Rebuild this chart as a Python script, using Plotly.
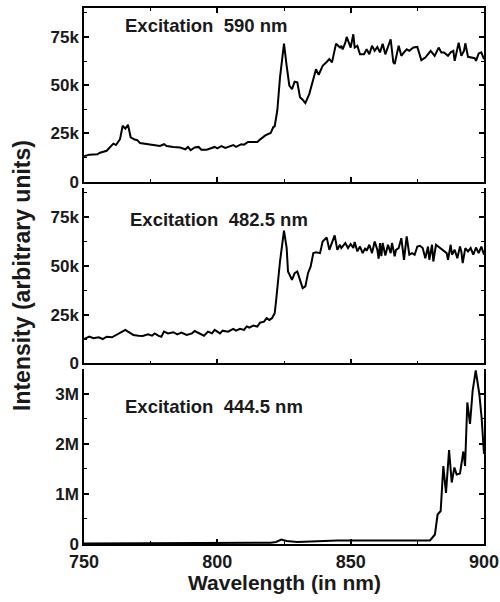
import plotly.graph_objects as go

# Panel 1: Excitation 590 nm
wl_590 = [750, 752, 755, 756, 758.5, 760, 761, 762, 763.5, 764.5, 765.5, 766.5, 767.5, 769, 770, 771, 773, 774, 776,
          778.5, 780, 781, 783.5, 786, 788, 789, 790, 791.5, 793, 794, 796, 798, 799, 800, 801.5, 803, 804, 806, 807,
          809, 810, 811.5, 813.5, 815, 816, 818, 820, 821, 821.5, 822.5, 823.5, 825, 826, 827, 828, 829, 830, 831, 832,
          833, 834.5, 836, 837, 838, 839.5, 841, 842, 843, 844.5, 846, 846.5, 847, 848, 848.5, 850, 851, 851.5, 852.5,
          853.5, 855, 856, 857, 858, 859, 860, 861, 862, 863, 864, 865, 866, 866.5, 868, 869, 870, 871, 872, 873.5, 875,
          876.5, 878, 879, 880, 881.5, 883, 884, 885, 886.5, 887.5, 888.5, 889, 890.5, 891.5, 892.5, 893, 894, 895.5,
          896.5, 897, 898, 899, 900]
int_590 = [13.2, 14, 14.2, 15, 16, 18, 19.7, 19, 22, 29, 27.5, 29.5, 23, 21.8, 21.5, 20, 19.7, 19.4, 19,
           18.5, 19.4, 18.5, 18, 17.7, 16.8, 18, 16.3, 17.7, 18, 16.6, 16.6, 17.7, 18, 17.3, 18.4, 17.5, 18, 19, 18,
           19.4, 19.2, 20.6, 20.6, 20.6, 21.8, 24, 25.2, 28.3, 28.7, 37, 54, 71.5, 60, 49.8, 48, 51.8, 51.5, 43.8, 42.5,
           40.7, 45.5, 54, 58.3, 55.4, 60, 62, 63.5, 61.8, 71.5, 69.5, 70.4, 68.6, 72, 75, 69.5, 76.4, 69.5, 70.4,
           66, 66, 68.6, 66, 70.4, 67.8, 69.8, 67, 71.5, 66, 69.5, 73.8, 61.8, 61, 70.4, 65.2, 67, 68.6, 67.8, 69.5, 69.8,
           63, 64.3, 66.4, 67.8, 65.2, 69.5, 67, 67, 65.2, 67, 67.8, 62.6, 72, 65.2, 67.8, 71.7, 64.7, 64.3,
           64, 62.6, 66.4, 67, 63.5]

# Panel 2: Excitation 482.5 nm
wl_482 = [750, 752, 753.5, 755.5, 757, 758.5, 760.5, 762, 764, 765.5, 766.5, 768.5, 770.5, 772, 774, 775.5, 776.5, 778,
          779, 780, 781.5, 783.5, 785, 786.5, 788.5, 790.5, 791.5, 793, 795, 796.5, 798, 799, 800, 801, 802, 804, 806,
          807, 808.5, 810, 811, 812, 813.5, 815, 816, 817.5, 818.5, 819.5, 820.5, 821.5, 822, 823.5, 825, 826, 826.5,
          828, 829, 830, 831, 832, 833, 834, 835, 836, 837, 838.5, 839.5, 841, 842, 843, 844, 845, 846, 846.5, 848, 849,
          850, 851, 851.5, 852.5, 853.5, 854.5, 855.5, 856, 857, 858, 859, 860, 860.5, 861, 861.5, 862, 863, 864, 865,
          865.5, 866.5, 867, 868, 869, 870, 871, 872, 873, 874, 875, 876, 877, 878, 879, 879.5, 880.5, 881, 882, 883.5,
          884.5, 886, 886.5, 887.5, 888, 889, 890, 891, 891.5, 892, 893, 894, 895, 896, 897, 898, 899, 900]
int_482 = [12.5, 13.7, 12.9, 13.4, 12.5, 13.7, 13.4, 14.6, 16.3, 17.2, 16.3, 14.6, 14.2, 14.1, 14.9, 14.2, 15.4, 14.1,
           13.7, 16.3, 15.4, 16, 14.9, 15.8, 14.6, 15.4, 16.6, 15.6, 14.2, 16.3, 15.4, 17.2, 16.3, 15.4, 16.8, 16.3, 17.7,
           16.8, 17.7, 17.2, 19, 18.4, 19.4, 18.9, 20.9, 21.4, 23.2, 22.3, 23.2, 25.7, 31.7, 52.3, 68.1, 59.2, 47.2,
           42.9, 46.3, 47.2, 42.9, 38.6, 39.5, 46.3, 49.8, 56.6, 57, 56.6, 62.6, 64.7, 58.3, 62.6, 65.7, 58.3, 60.9, 59.2, 61.8, 59.2,
           61.3, 59.2, 62.3, 57.5, 60, 56.6, 59.2, 57.8, 60.9, 56.6, 62.6, 58.3, 53.7, 61.8, 55, 61.8, 55.4, 60.9, 56.6,
           61.8, 55, 58.3, 59.2, 64.3, 53.2, 65.2, 55.8, 56.6, 55.8, 60, 60.4, 59.2, 54, 60, 53.2, 60.9, 52.3, 60.9, 59.2,
           58.3, 56.6, 53.2, 60.9, 55.8, 58.3, 54, 60, 57.5, 51.5, 59.2, 57.5, 59.2, 55.8, 59.5, 56.6, 60, 55.8]

# Panel 3: Excitation 444.5 nm (millions)
wl_444 = [750, 760, 770, 780, 790, 800, 810, 815, 820, 822, 824, 826, 828, 830, 835, 840, 845, 850, 855, 860, 865, 870,
          875, 879.75, 881.6, 882.6, 883.75, 884.75, 885.75, 886.9, 887.9, 888.9, 889.75, 891, 892.25, 892.9, 893.75,
          894.75, 895.75, 896.9, 898.25, 899.1, 900]
int_444 = [0.01, 0.01, 0.01, 0.01, 0.01, 0.012, 0.015, 0.02, 0.025, 0.04, 0.09, 0.06, 0.05, 0.04, 0.05, 0.065, 0.07,
           0.07, 0.065, 0.07, 0.07, 0.07, 0.07, 0.07, 0.19, 0.59, 0.66, 1.56, 1.02, 1.88, 1.23, 1.53, 1.39, 1.41, 1.85,
           1.56, 2.83, 2.40, 3.07, 3.47, 3.0, 2.53, 1.80]

labels = ["Excitation\u00a0\u00a0590 nm", "Excitation\u00a0\u00a0482.5 nm", "Excitation\u00a0\u00a0444.5 nm"]

FONT = "Liberation Sans, Arial, Helvetica, sans-serif"

fig = go.Figure()
fig.add_trace(go.Scatter(x=wl_590, y=[v * 1000 for v in int_590], mode="lines",
                         line=dict(color="black", width=2), xaxis="x", yaxis="y"))
fig.add_trace(go.Scatter(x=wl_482, y=[v * 1000 for v in int_482], mode="lines",
                         line=dict(color="black", width=2), xaxis="x2", yaxis="y2"))
fig.add_trace(go.Scatter(x=wl_444, y=[v * 1e6 for v in int_444], mode="lines",
                         line=dict(color="black", width=2), xaxis="x3", yaxis="y3"))

xtickfont = dict(family=FONT, size=18, color="#1a1a1a", weight="bold")
ytickfont = dict(family=FONT, size=17, color="#1a1a1a", weight="bold")

def xax(anchor, show_labels, top_line):
    return dict(range=[750, 900], anchor=anchor, dtick=50, tick0=750, ticks="inside", ticklen=5,
                tickwidth=1.5, tickcolor="black", showline=True, linecolor="black", linewidth=1.5,
                mirror="ticks" if top_line else False, showgrid=False, zeroline=False,
                showticklabels=show_labels, tickfont=xtickfont, ticklabelstandoff=1,
                minor=dict(dtick=25, tick0=750, ticks="inside", ticklen=3, tickcolor="black", tickwidth=1.2))

def yax(anchor, domain, rng, dtick, minor_dtick):
    return dict(range=rng, domain=domain, anchor=anchor, dtick=dtick, tick0=0, tickformat="~s",
                ticks="inside", ticklen=5, tickwidth=1.5, tickcolor="black", showline=True,
                linecolor="black", linewidth=1.5, mirror="ticks", showgrid=False, zeroline=False,
                tickfont=ytickfont,
                minor=dict(dtick=minor_dtick, tick0=0, ticks="inside", ticklen=3, tickcolor="black", tickwidth=1.2))

fig.update_layout(
    width=500, height=602,
    margin=dict(l=84, r=16, t=8, b=58),
    paper_bgcolor="white", plot_bgcolor="white",
    showlegend=False,
    template="none",
    xaxis=xax("y", False, True),
    xaxis2=xax("y2", False, False),
    xaxis3=xax("y3", True, False),
    yaxis=yax("x", [0.676, 1.0], [0, 90000], 25000, 12500),
    yaxis2=yax("x2", [0.337, 0.664], [0, 90000], 25000, 12500),
    yaxis3=yax("x3", [0.0, 0.3265], [0, 3.5e6], 1e6, 5e5),
)

annfont = dict(family=FONT, size=18.5, color="#1a1a1a", weight="bold")
fig.add_annotation(text=labels[0], xref="x", yref="y", x=764.6, y=80700, xanchor="left", yanchor="middle",
                   showarrow=False, font=annfont)
fig.add_annotation(text=labels[1], xref="x2", yref="y2", x=766.5, y=73800, xanchor="left", yanchor="middle",
                   showarrow=False, font=annfont)
fig.add_annotation(text=labels[2], xref="x3", yref="y3", x=764.6, y=2.74e6, xanchor="left", yanchor="middle",
                   showarrow=False, font=annfont)

fig.add_annotation(text="Intensity (arbitrary units)", xref="paper", yref="paper", x=-0.155, y=0.5,
                   xanchor="center", yanchor="middle", textangle=-90, showarrow=False,
                   font=dict(family=FONT, size=23, color="#1a1a1a", weight="bold"))
fig.add_annotation(text="Wavelength (in nm)", xref="paper", yref="paper", x=0.5, y=-0.071,
                   xanchor="center", yanchor="middle", showarrow=False,
                   font=dict(family=FONT, size=21, color="#1a1a1a", weight="bold"))

fig.write_html("out.html")
